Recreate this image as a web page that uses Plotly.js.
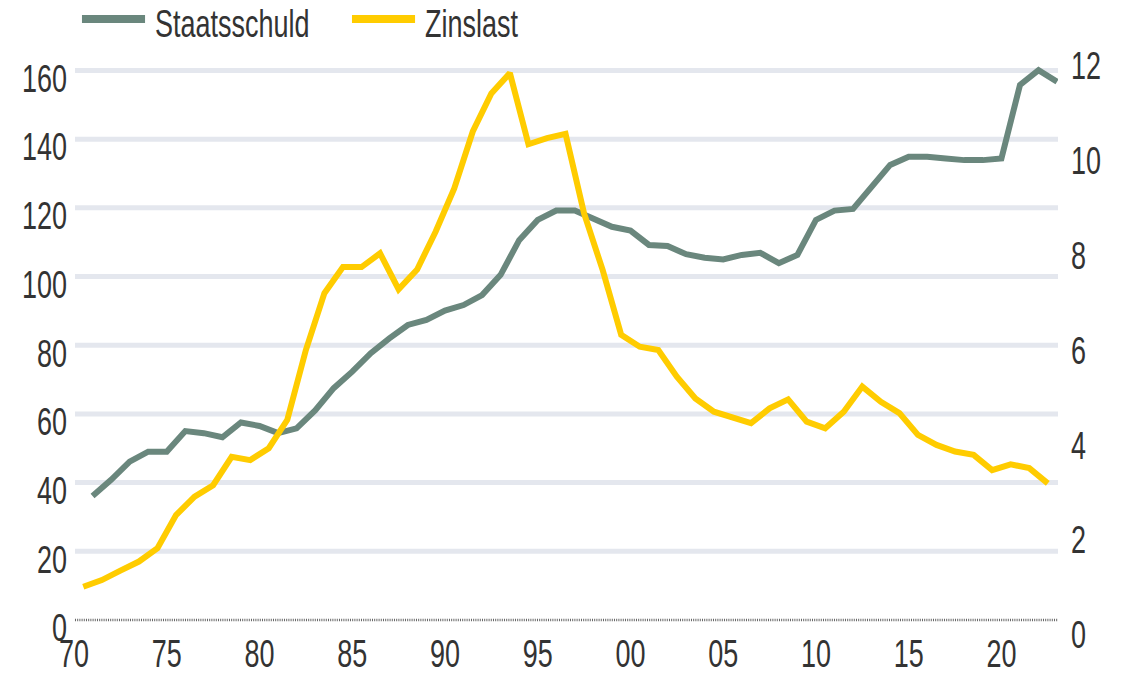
<!DOCTYPE html>
<html>
<head>
<meta charset="utf-8">
<script src="https://cdn.plot.ly/plotly-3.0.1.min.js"></script>
<style>html,body{margin:0;padding:0;background:#fff;}#chart{width:1129px;height:673px;}</style>
</head>
<body>
<div id="chart"></div>
<script>
// Staatsschuld (left axis), year-end values
var debtYears = [1971,1972,1973,1974,1975,1976,1977,1978,1979,1980,
  1981,1982,1983,1984,1985,1986,1987,1988,1989,1990,
  1991,1992,1993,1994,1995,1996,1997,1998,1999,2000,
  2001,2002,2003,2004,2005,2006,2007,2008,2009,2010,
  2011,2012,2013,2014,2015,2016,2017,2018,2019,2020,
  2021,2022,2023];
var debt = [36.1,40.8,46.1,49.0,49.0,55.0,54.4,53.2,57.5,56.5,
  54.4,55.8,61.0,67.5,72.3,77.7,82.0,85.9,87.4,90.1,
  91.7,94.6,100.5,110.6,116.5,119.2,119.2,116.9,114.5,113.4,
  109.2,108.9,106.5,105.5,105.0,106.3,106.9,103.9,106.3,116.5,
  119.2,119.7,126.2,132.5,134.9,134.9,134.4,133.9,133.9,134.4,
  155.8,160.1,156.7];
// Zinslast (right axis), annual values plotted mid-year
var interestYears = [1970,1971,1972,1973,1974,1975,1976,1977,1978,1979,
  1980,1981,1982,1983,1984,1985,1986,1987,1988,1989,
  1990,1991,1992,1993,1994,1995,1996,1997,1998,1999,
  2000,2001,2002,2003,2004,2005,2006,2007,2008,2009,
  2010,2011,2012,2013,2014,2015,2016,2017,2018,2019,
  2020,2021,2022];
var interest = [0.85,0.99,1.19,1.38,1.66,2.36,2.75,2.99,3.59,3.52,
  3.77,4.37,5.84,7.04,7.59,7.59,7.88,7.12,7.54,8.34,
  9.25,10.45,11.25,11.68,10.18,10.31,10.40,8.72,7.53,6.16,
  5.91,5.84,5.28,4.82,4.54,4.41,4.30,4.61,4.80,4.33,
  4.19,4.54,5.07,4.75,4.51,4.05,3.84,3.70,3.63,3.31,
  3.43,3.35,3.03];
var xTickVals = [1970,1975,1980,1985,1990,1995,2000,2005,2010,2015,2020];
var xTickText = ['70','75','80','85','90','95','00','05','10','15','20'];
var leftTicks = [0,20,40,60,80,100,120,140,160];
var rightTicks = [0,2,4,6,8,10,12];
var seriesNames = ['Staatsschuld','Zinslast'];
var colors = ['#6a877d','#ffcc00'];

var FONT = 'Liberation Sans, Arial, Helvetica, sans-serif';
var FS = 38;
var TXT = '#333333';
var CONDENSE = 0.71;

var traces = [
  {x: debtYears, y: debt, name: seriesNames[0], type: 'scatter', mode: 'lines',
   line: {color: colors[0], width: 6}, yaxis: 'y', hoverinfo: 'skip'},
  {x: interestYears.map(function(v){return v + 0.5;}), y: interest, name: seriesNames[1],
   type: 'scatter', mode: 'lines', line: {color: colors[1], width: 6}, yaxis: 'y2', hoverinfo: 'skip'}
];

var shapes = leftTicks.filter(function(t){return t > 0;}).map(function(t){
  return {type: 'line', xref: 'paper', yref: 'y', x0: 0.001, x1: 1, y0: t, y1: t,
          line: {color: '#e4e7ee', width: 5}, layer: 'below'};
});
shapes.push({type: 'line', xref: 'paper', yref: 'y', x0: 0.001, x1: 1, y0: 0, y1: 0,
             line: {color: '#666666', width: 2.5, dash: '1px,1.2px'}, layer: 'below'});
// legend line swatches (paper coords: plot area spans 74..1058 px, 45..628 px)
shapes.push({type: 'line', xref: 'paper', yref: 'paper', x0: 0.0081, x1: 0.0722, y0: 1.0446, y1: 1.0446,
             line: {color: colors[0], width: 8}});
shapes.push({type: 'line', xref: 'paper', yref: 'paper', x0: 0.2825, x1: 0.3466, y0: 1.0446, y1: 1.0446,
             line: {color: colors[1], width: 8}});

var annotations = [
  {xref: 'paper', yref: 'paper', x: 0.0813, y: 1.036, xanchor: 'left', yanchor: 'middle', align: 'left',
   text: seriesNames[0], showarrow: false, borderpad: 0, font: {family: FONT, size: FS, color: TXT}},
  {xref: 'paper', yref: 'paper', x: 0.3557, y: 1.036, xanchor: 'left', yanchor: 'middle', align: 'left',
   text: seriesNames[1], showarrow: false, borderpad: 0, font: {family: FONT, size: FS, color: TXT}}
];

var layout = {
  width: 1129, height: 673,
  margin: {l: 74, r: 71, t: 45, b: 45, pad: 0},
  paper_bgcolor: '#ffffff', plot_bgcolor: '#ffffff',
  showlegend: false,
  font: {family: FONT, size: FS, color: TXT},
  xaxis: {range: [1970, 2023.05], tickmode: 'array', tickvals: xTickVals, ticktext: xTickText,
          showgrid: false, zeroline: false, showline: false, ticks: '',
          tickfont: {family: FONT, size: FS, color: TXT}, fixedrange: true},
  yaxis: {range: [-2.329, 167.42], tickmode: 'array', tickvals: leftTicks,
          showgrid: false, zeroline: false, showline: false, ticks: '',
          ticklabelstandoff: 6, ticklabelshift: 8,
          tickfont: {family: FONT, size: FS, color: TXT}, fixedrange: true},
  yaxis2: {range: [-0.021, 12.273], overlaying: 'y', side: 'right', tickmode: 'array', tickvals: rightTicks,
          showgrid: false, zeroline: false, showline: false, ticks: '',
          ticklabelstandoff: 12, ticklabelshift: 8,
          tickfont: {family: FONT, size: FS, color: TXT}, fixedrange: true},
  shapes: shapes,
  annotations: annotations
};

Plotly.newPlot('chart', traces, layout, {staticPlot: true, displayModeBar: false}).then(function(gd){
  // condensed typeface look: squeeze glyphs horizontally, keeping each text's anchor
  var nodes = gd.querySelectorAll('.xtick text, .ytick text, .y2tick text, text.annotation-text');
  nodes.forEach(function(t){
    var w = t.getComputedTextLength();
    if (w > 0) {
      t.setAttribute('textLength', (w * CONDENSE).toFixed(2));
      t.setAttribute('lengthAdjust', 'spacingAndGlyphs');
    }
  });
});
</script>
</body>
</html>
